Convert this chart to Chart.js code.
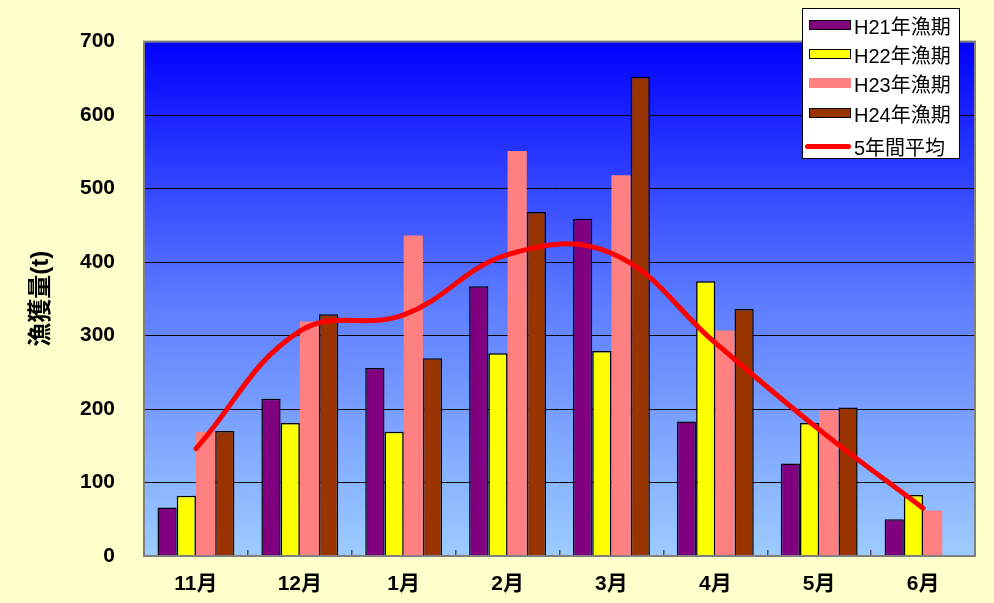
<!DOCTYPE html>
<html>
<head>
<meta charset="utf-8">
<script src="https://cdn.jsdelivr.net/npm/chart.js@4"></script>
<style>
  html, body { margin: 0; padding: 0; background: #FFFFCC; }
  #wrap { position: relative; width: 994px; height: 603px; }
  #legend {
    position: absolute; left: 802px; top: 8px; width: 158px; height: 151px;
    background: #fff; border: 1px solid #000; box-sizing: border-box;
    font-family: "Liberation Sans", "Noto Sans CJK JP", sans-serif; font-size: 20px; color: #000;
  }
  .item { position: absolute; left: 6px; height: 22px; display: flex; align-items: center; white-space: nowrap; }
  .sw { width: 42px; height: 10px; margin-right: 3px; box-sizing: border-box; }
  .sw.b { border: 1.5px solid #000; }
  .ln { width: 46px; height: 5px; border-radius: 3px; background: #FF0000; margin-left: -4px; margin-right: 3px; }
</style>
</head>
<body>
<div id="wrap">
  <canvas id="fishChart" width="994" height="603"></canvas>
  <div id="legend"></div>
</div>
<script>
// 月別漁獲量 (t)
const months = ['11月', '12月', '1月', '2月', '3月', '4月', '5月', '6月'];
const h21 = [66, 214, 256, 367, 459, 183, 126, 50];
const h22 = [82, 181, 169, 276, 279, 374, 181, 83];
const h23 = [169, 319, 436, 551, 518, 307, 198, 62];
const h24 = [170, 329, 269, 468, 652, 336, 202, null];
const avg5 = [146, 306, 328, 410, 412, 290, 172, 65];
const yTicks = [0, 100, 200, 300, 400, 500, 600, 700];

const fontFamily = '"Liberation Sans", "Noto Sans CJK JP", sans-serif';

const series = [
    { label: 'H21年漁期', data: h21, color: '#800080', border: true },
    { label: 'H22年漁期', data: h22, color: '#FFFF00', border: true },
    { label: 'H23年漁期', data: h23, color: '#FF8080', border: false },
    { label: 'H24年漁期', data: h24, color: '#993300', border: true },
];

// plot area gradient + frame
const plotBg = {
    id: 'plotBg',
    beforeDraw(chart) {
        const a = chart.chartArea;
        const c = chart.ctx;
        const g = c.createLinearGradient(0, a.top, 0, a.bottom);
        g.addColorStop(0, '#0000FF');
        g.addColorStop(0.5, '#5B7BFF');
        g.addColorStop(1, '#9CCCFF');
        c.save();
        c.fillStyle = g;
        c.fillRect(a.left, a.top, a.right - a.left, a.bottom - a.top);
        c.restore();
    },
    afterDraw(chart) {
        const a = chart.chartArea;
        const c = chart.ctx;
        c.save();
        c.strokeStyle = '#808080';
        c.lineWidth = 2;
        c.strokeRect(a.left, a.top, a.right - a.left, a.bottom - a.top);
        c.restore();
    }
};

const datasets = series.map(s => ({
    type: 'bar',
    label: s.label,
    data: s.data,
    backgroundColor: s.color,
    borderColor: '#000',
    borderWidth: s.border ? 1.5 : 0,
    categoryPercentage: 0.74,
    barPercentage: 1.0,
    order: 2,
}));
datasets.push({
    type: 'line',
    label: '5年間平均',
    data: avg5,
    borderColor: '#FF0000',
    borderWidth: 5,
    borderCapStyle: 'round',
    pointRadius: 0,
    tension: 0.4,
    fill: false,
    order: 0,
});

const ctx = document.getElementById('fishChart');
ctx._chart = new Chart(ctx, {
    data: { labels: months, datasets: datasets },
    options: {
        responsive: false,
        animation: false,
        layout: { padding: { top: 38, right: 19, left: 0, bottom: 0 } },
        plugins: { legend: { display: false }, tooltip: { enabled: false } },
        scales: {
            x: {
                grid: { display: true, drawOnChartArea: false, drawTicks: true, tickLength: -6, color: '#555', lineWidth: 1.5 },
                border: { display: false },
                ticks: { color: '#000', padding: 22, font: { family: fontFamily, size: 21, weight: 'bold' } },
                afterFit: s => { s.height = 47; }
            },
            y: {
                min: 0, max: 700,
                afterBuildTicks: s => { s.ticks = yTicks.map(v => ({ value: v })); },
                grid: { color: '#000', borderDash: [1, 1], lineWidth: 1, drawTicks: false },
                border: { display: false },
                ticks: { color: '#000', padding: 29, font: { family: fontFamily, size: 21, weight: 'bold' } },
                title: {
                    display: true, text: '漁獲量(t)', color: '#000',
                    padding: { top: 27, bottom: 0 },
                    font: { family: fontFamily, size: 24, weight: 'bold' }
                },
                afterFit: s => { s.width = 144; }
            }
        }
    },
    plugins: [plotBg]
});

// legend
const legend = document.getElementById('legend');
const rows = [...series.map(s => ({ label: s.label, color: s.color, border: s.border, line: false })),
              { label: '5年間平均', line: true }];
const rowTops = [5, 34, 63, 93, 126];
rows.forEach((r, i) => {
    const d = document.createElement('div');
    d.className = 'item';
    d.style.top = rowTops[i] + 'px';
    const sw = document.createElement('span');
    if (r.line) {
        sw.className = 'ln';
    } else {
        sw.className = 'sw' + (r.border ? ' b' : '');
        sw.style.background = r.color;
    }
    d.appendChild(sw);
    d.appendChild(document.createTextNode(r.label));
    legend.appendChild(d);
});
</script>
</body>
</html>
